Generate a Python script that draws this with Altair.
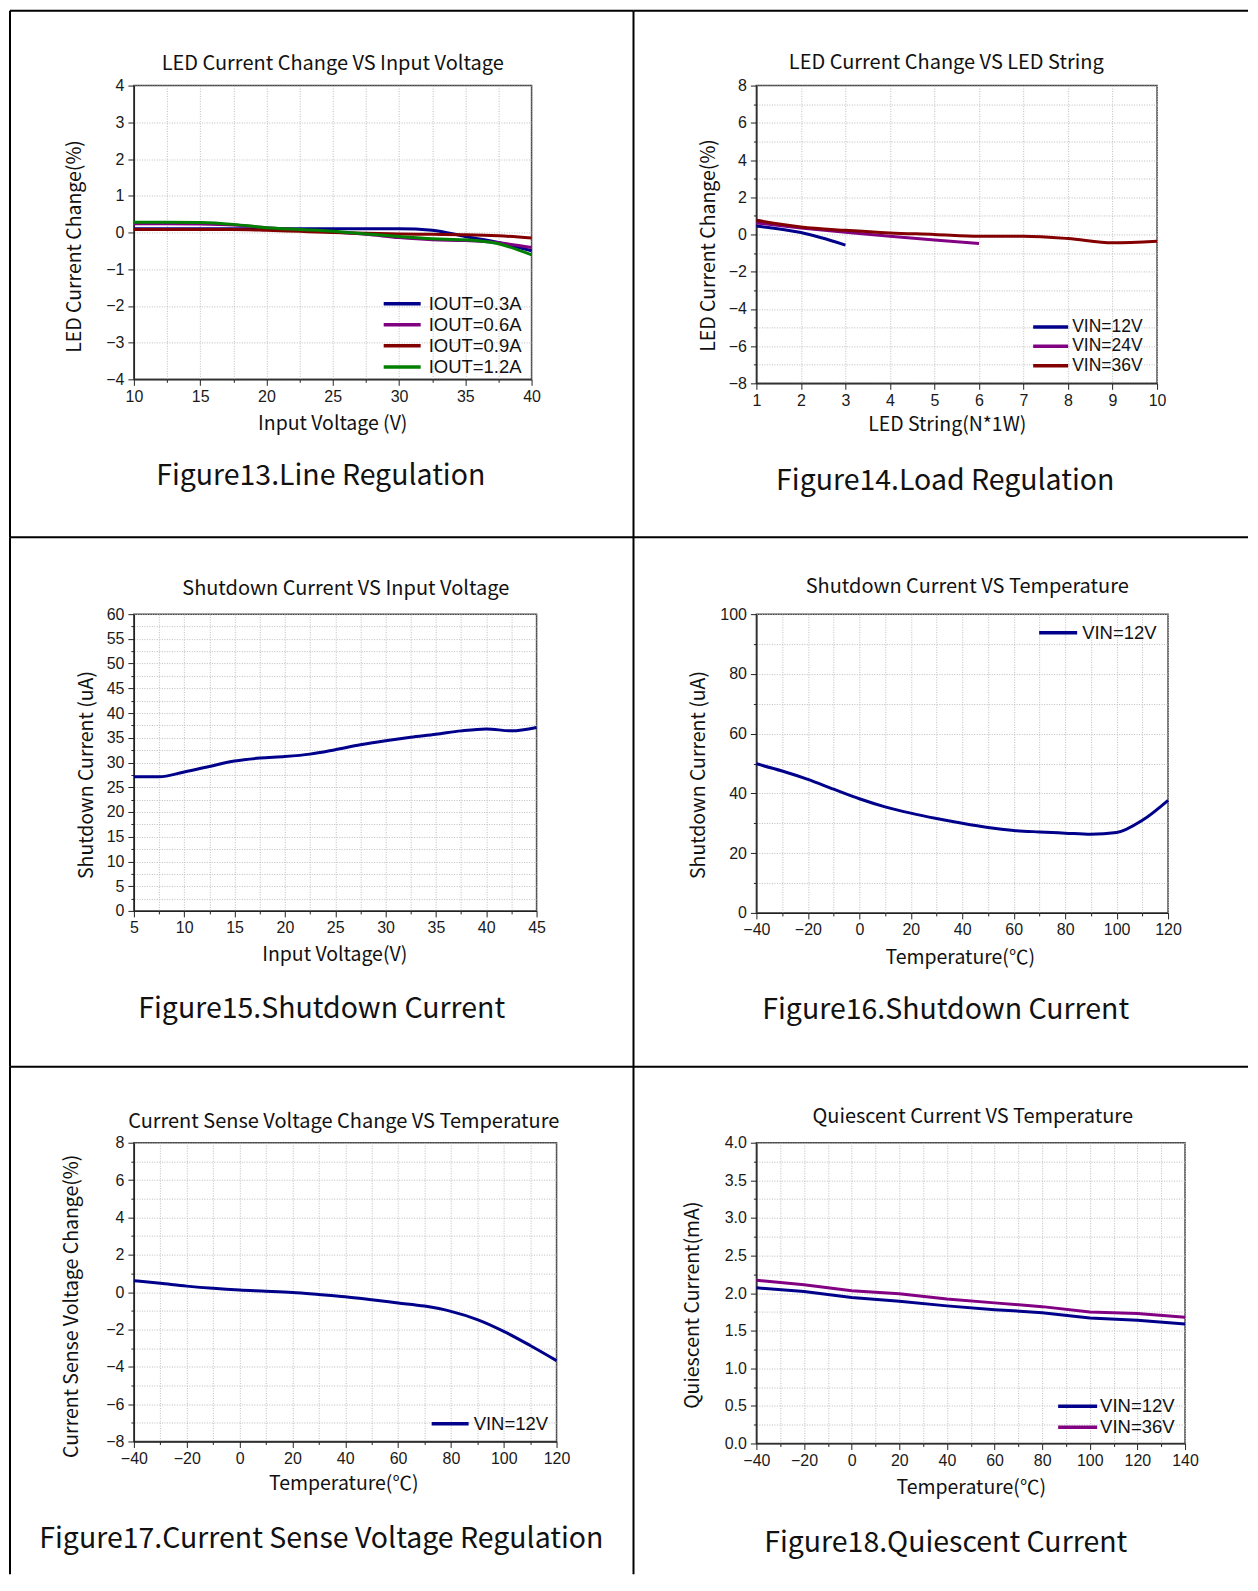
import altair as alt
import pandas as pd

# ---------------- data ----------------
# Figure 13 : LED current change vs input voltage
f13_vin = [10, 12.5, 15, 17.5, 20, 22.5, 25, 27.5, 30, 32.5, 35, 37.5, 40]
f13_names = ["IOUT=0.3A", "IOUT=0.6A", "IOUT=0.9A", "IOUT=1.2A"]
f13_i03 = [0.10, 0.10, 0.10, 0.10, 0.10, 0.10, 0.10, 0.10, 0.10, 0.06, -0.11, -0.27, -0.50]
f13_i06 = [0.24, 0.24, 0.23, 0.20, 0.13, 0.07, 0.01, -0.05, -0.14, -0.20, -0.22, -0.28, -0.41]
f13_i09 = [0.08, 0.08, 0.08, 0.08, 0.06, 0.03, 0.00, -0.02, -0.04, -0.05, -0.06, -0.09, -0.15]
f13_i12 = [0.28, 0.28, 0.27, 0.22, 0.13, 0.08, 0.03, -0.04, -0.11, -0.17, -0.20, -0.31, -0.61]

# Figure 14 : LED current change vs LED string
f14_names = ["VIN=12V", "VIN=24V", "VIN=36V"]
f14_n12 = [1, 2, 3]
f14_v12 = [0.45, 0.10, -0.57]
f14_n24 = [1, 2, 3, 4, 5, 6]
f14_v24 = [0.62, 0.35, 0.12, -0.10, -0.30, -0.48]
f14_n36 = [1, 2, 3, 4, 5, 6, 7, 8, 9, 10]
f14_v36 = [0.76, 0.40, 0.22, 0.08, 0.00, -0.10, -0.10, -0.22, -0.45, -0.36]

# Figure 15 : shutdown current vs input voltage
f15_vin = [5, 7.5, 10, 12.5, 15, 17.5, 20, 22.5, 25, 27.5, 30, 32.5, 35, 37.5, 40, 42.5, 45]
f15_isd = [27.1, 27.1, 28.1, 29.2, 30.3, 30.9, 31.2, 31.7, 32.6, 33.6, 34.4, 35.1, 35.7, 36.4, 36.8, 36.4, 37.1]

# Figure 16 : shutdown current vs temperature
f16_t = [-40, -30, -20, -10, 0, 10, 20, 30, 40, 50, 60, 70, 80, 90, 100, 110, 120]
f16_isd = [49.9, 47.5, 44.7, 41.4, 38.2, 35.5, 33.4, 31.6, 30.0, 28.6, 27.6, 27.1, 26.7, 26.3, 26.9, 31.0, 37.7]

# Figure 17 : current sense voltage change vs temperature
f17_t = [-40, -30, -20, -10, 0, 10, 20, 30, 40, 50, 60, 70, 80, 90, 100, 110, 120]
f17_dv = [0.61, 0.47, 0.32, 0.20, 0.11, 0.05, -0.02, -0.13, -0.25, -0.41, -0.58, -0.75, -1.03, -1.47, -2.10, -2.86, -3.67]

# Figure 18 : quiescent current vs temperature
f18_names = ["VIN=12V", "VIN=36V"]
f18_t = [-40, -20, 0, 20, 40, 60, 80, 100, 120, 140]
f18_i12 = [2.07, 2.02, 1.94, 1.89, 1.83, 1.78, 1.74, 1.67, 1.64, 1.59]
f18_i36 = [2.17, 2.11, 2.03, 1.99, 1.92, 1.87, 1.82, 1.75, 1.73, 1.68]

# colours
NAVY, PURPLE, DRED, GREEN = "#00008a", "#820082", "#840000", "#008000"

FONT_T = "Noto Sans CJK SC"
FONT_L = "Liberation Sans"


def steps(a, b, s):
    n = int(round((b - a) / s))
    return [round(a + i * s, 4) for i in range(n + 1)]


def long_df(series):
    rows = []
    for name, xs, ys in series:
        for x, y in zip(xs, ys):
            rows.append({"s": name, "x": x, "y": y})
    return pd.DataFrame(rows)


one = pd.DataFrame({"k": [0]})


def mk_axis(vals, major, fmt, pad):
    test = f"abs(datum.value / {major} - round(datum.value / {major})) < 0.000001"
    return alt.Axis(
        values=vals, format=fmt, title=None,
        labelExpr=f"({test}) ? datum.label : ''",
        grid=True, gridColor="#bdbdbd", gridDash=[1, 1.5], gridWidth=1,
        ticks=True, tickColor="#222222", tickWidth=1,
        tickSize={"condition": {"test": test, "value": 6}, "value": 3},
        domainColor="#222222", domainWidth=1.3,
        labelFont=FONT_L, labelFontSize=16, labelColor="#1a1a1a",
        labelPadding=pad, labelFlush=False, labelOverlap=False,
    )


def panel(df, xdom, ydom, xt, xmaj, xfmt, yt, ymaj, yfmt, w, h,
          names, colors, interp, texts, legend, border):
    lines = alt.Chart(df).mark_line(strokeWidth=3, interpolate=interp).encode(
        x=alt.X("x:Q", scale=alt.Scale(domain=xdom, nice=False, zero=False),
                axis=mk_axis(xt, xmaj, xfmt, 3)),
        y=alt.Y("y:Q", scale=alt.Scale(domain=ydom, nice=False, zero=False),
                axis=mk_axis(yt, ymaj, yfmt, 4)),
        color=alt.Color("s:N", scale=alt.Scale(domain=names, range=colors), legend=None),
    )
    layers = [lines]
    for txt, x, y, size, angle in texts:
        layers.append(
            alt.Chart(one).mark_text(text=txt, font=FONT_T, fontSize=size, angle=angle,
                                     align="center", baseline="middle", color="#111111")
            .encode(x=alt.value(x), y=alt.value(y))
        )
    if legend:
        lx1, lx2, ltx, ly0, step, fs = legend
        for i, (nm, col) in enumerate(zip(names, colors)):
            yy = ly0 + i * step
            layers.append(
                alt.Chart(one).mark_rule(strokeWidth=3.5, color=col)
                .encode(x=alt.value(lx1), x2=alt.value(lx2), y=alt.value(yy))
            )
            layers.append(
                alt.Chart(one).mark_text(text=nm, font=FONT_L, fontSize=fs, align="left",
                                         baseline="middle", color="#111111")
                .encode(x=alt.value(ltx), y=alt.value(yy))
            )
    L, R, T, B = border
    layers.append(alt.Chart(one).mark_rule(strokeWidth=2, color="black")
                  .encode(x=alt.value(L), x2=alt.value(R), y=alt.value(T)))
    layers.append(alt.Chart(one).mark_rule(strokeWidth=2, color="black")
                  .encode(x=alt.value(L), y=alt.value(T), y2=alt.value(B)))
    return alt.layer(*layers).properties(width=w, height=h)


p13 = panel(
    long_df([(f13_names[0], f13_vin, f13_i03), (f13_names[1], f13_vin, f13_i06),
             (f13_names[2], f13_vin, f13_i09), (f13_names[3], f13_vin, f13_i12)]),
    [10, 40], [-4, 4], steps(10, 40, 2.5), 5, "d", steps(-4, 4, 0.5), 1, "d", 398, 294,
    f13_names, [NAVY, PURPLE, DRED, GREEN], "monotone",
    [("LED Current Change VS Input Voltage", 199, -22, 20, 0),
     ("LED Current Change(%)", -59, 161, 19.5, 270),
     ("Input Voltage (V)", 199, 339, 19.5, 0),
     ("Figure13.Line Regulation", 187, 391, 28.5, 0)],
    (250, 287, 295, 218.3, 21.1, 18.5), (-124, 500, -75, 452))

p14 = panel(
    long_df([(f14_names[0], f14_n12, f14_v12), (f14_names[1], f14_n24, f14_v24),
             (f14_names[2], f14_n36, f14_v36)]),
    [1, 10], [-8, 8], steps(1, 10, 0.5), 1, "d", steps(-8, 8, 1), 2, "d", 401, 298,
    f14_names, [NAVY, PURPLE, DRED], "monotone",
    [("LED Current Change VS LED String", 190, -23, 20, 0),
     ("LED Current Change(%)", -47, 160, 19.5, 270),
     ("LED String(N*1W)", 191, 340, 19.5, 0),
     ("Figure14.Load Regulation", 189, 396, 28.5, 0)],
    (277, 312, 316, 241.7, 19.3, 17.5), (-123, 492, -75, 452))

p15 = panel(
    long_df([("VIN", f15_vin, f15_isd)]),
    [5, 45], [0, 60], steps(5, 45, 2.5), 5, "d", steps(0, 60, 2.5), 5, "d", 403, 297,
    ["VIN"], [NAVY], "monotone",
    [("Shutdown Current VS Input Voltage", 212, -25.6, 20, 0),
     ("Shutdown Current (uA)", -47, 161, 19.5, 270),
     ("Input Voltage(V)", 201, 341, 19.5, 0),
     ("Figure15.Shutdown Current", 188, 395, 28.5, 0)],
    None, (-124, 500, -77, 453))

p16 = panel(
    long_df([("VIN=12V", f16_t, f16_isd)]),
    [-40, 120], [0, 100], steps(-40, 120, 10), 20, "d", steps(0, 100, 10), 20, "d", 412, 299,
    ["VIN=12V"], [NAVY], "monotone",
    [("Shutdown Current VS Temperature", 211, -27.6, 20, 0),
     ("Shutdown Current (uA)", -57, 161, 19.5, 270),
     ("Temperature(℃)", 204, 344, 19.5, 0),
     ("Figure16.Shutdown Current", 189.5, 396, 28.5, 0)],
    (283, 321, 326, 18.7, 21, 18.5), (-123, 492, -77, 453))

p17 = panel(
    long_df([("VIN=12V", f17_t, f17_dv)]),
    [-40, 120], [-8, 8], steps(-40, 120, 10), 20, "d", steps(-8, 8, 1), 2, "d", 423, 299,
    ["VIN=12V"], [NAVY], "monotone",
    [("Current Sense Voltage Change VS Temperature", 210, -20.3, 20, 0),
     ("Current Sense Voltage Change(%)", -62, 163.7, 19.5, 270),
     ("Temperature(℃)", 210, 342, 19.5, 0),
     ("Figure17.Current Sense Voltage Regulation", 187.6, 397, 28.5, 0)],
    (298, 335, 340, 281.3, 21, 18.5), (-124, 500, -76, 432))

p18 = panel(
    long_df([(f18_names[0], f18_t, f18_i12), (f18_names[1], f18_t, f18_i36)]),
    [-40, 140], [0, 4], steps(-40, 140, 10), 20, "d", steps(0, 4, 0.25), 0.5, ".1f", 429, 301,
    f18_names, [NAVY, PURPLE], "linear",
    [("Quiescent Current VS Temperature", 216.5, -25.3, 20, 0),
     ("Quiescent Current(mA)", -63, 162.6, 19.5, 270),
     ("Temperature(℃)", 215, 346, 19.5, 0),
     ("Figure18.Quiescent Current", 189.5, 401, 28.5, 0)],
    (302, 341, 344, 263.7, 21, 18.5), (-123, 492, -76, 432))

chart = (
    alt.concat(p13, p14, p15, p16, p17, p18, columns=2)
    .properties(spacing={"row": 228, "column": 194}, bounds="flush", align="all",
                padding=0, background="white")
    .resolve_scale(color="independent")
    .configure_view(stroke="#444444", strokeWidth=1.5)
)

chart.save("out.html", embed_options={"renderer": "svg", "actions": False})
